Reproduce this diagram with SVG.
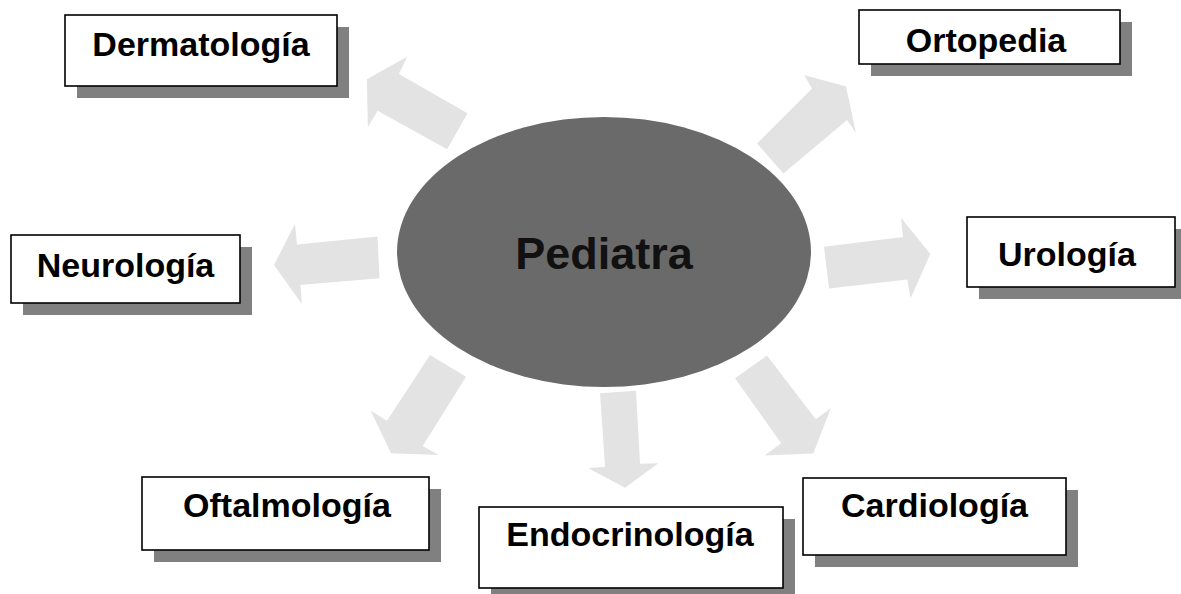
<svg xmlns="http://www.w3.org/2000/svg" width="1181" height="594" viewBox="0 0 1181 594">
<style>
.shadow{fill:#808080;}
.box{fill:#ffffff;stroke:#000000;stroke-width:1.6;}
.lbl{font-family:"Liberation Sans",Arial,sans-serif;font-weight:bold;font-size:34px;fill:#000000;text-anchor:middle;}
.arrow{fill:#e3e3e3;}
.center{fill:#6a6a6a;}
.ctext{font-family:"Liberation Sans",Arial,sans-serif;font-weight:bold;font-size:45px;fill:#111111;text-anchor:middle;}
</style>
<rect width="1181" height="594" fill="#ffffff"/>
<g id="connectors">
<polygon class="arrow" points="366.8,79.3 407.1,56.7 398.9,74 467.5,113.3 447.1,149.3 377.5,110.7 367.9,127.3"/>
<polygon class="arrow" points="846,86.5 804,75 812,88.5 757,143.5 783.5,173.5 847,120 856,133"/>
<polygon class="arrow" points="274,265 295,224 297,244.5 377.5,236.5 379.5,278.3 300.5,285 301.8,304"/>
<polygon class="arrow" points="930.3,254 901,217.8 903,237 824,246.7 829,288.6 907.3,279.5 910.6,298.3"/>
<polygon class="arrow" points="391,453.3 370.7,410.7 387,420.8 430,355 466,376.7 422.7,446 438.7,455"/>
<polygon class="arrow" points="625,487.7 588.3,468.3 605,466.7 600,393.3 636,390.8 640,463.7 658.3,463.3"/>
<polygon class="arrow" points="813.3,453.5 764.6,455.4 781.2,443.3 735,378.3 767,355.5 815.8,419.2 830.8,408.3"/>
</g>
<g id="pediatra">
<ellipse class="center" cx="604" cy="252" rx="207" ry="135"/>
<text class="ctext" x="604" y="269">Pediatra</text>
</g>
<g id="dermatologia">
<rect class="shadow" x="77" y="27" width="272" height="71"/>
<rect class="box" x="65" y="15" width="272" height="71"/>
<text class="lbl" x="201" y="56">Dermatología</text>
</g>
<g id="ortopedia">
<rect class="shadow" x="871" y="22" width="261" height="54"/>
<rect class="box" x="859" y="10" width="261" height="54"/>
<text class="lbl" x="986" y="52">Ortopedia</text>
</g>
<g id="neurologia">
<rect class="shadow" x="23" y="247" width="229" height="68"/>
<rect class="box" x="11" y="235" width="229" height="68"/>
<text class="lbl" x="125.5" y="277">Neurología</text>
</g>
<g id="urologia">
<rect class="shadow" x="979" y="229" width="208" height="70"/>
<rect class="box" x="967" y="217" width="208" height="70"/>
<text class="lbl" x="1067" y="266">Urología</text>
</g>
<g id="oftalmologia">
<rect class="shadow" x="154" y="489" width="287" height="73"/>
<rect class="box" x="142" y="477" width="287" height="73"/>
<text class="lbl" x="287" y="517">Oftalmología</text>
</g>
<g id="endocrinologia">
<rect class="shadow" x="491" y="519" width="304" height="81"/>
<rect class="box" x="479" y="507" width="304" height="81"/>
<text class="lbl" x="630" y="546">Endocrinología</text>
</g>
<g id="cardiologia">
<rect class="shadow" x="815" y="490" width="263" height="77"/>
<rect class="box" x="803" y="478" width="263" height="77"/>
<text class="lbl" x="934.5" y="517">Cardiología</text>
</g>
</svg>
